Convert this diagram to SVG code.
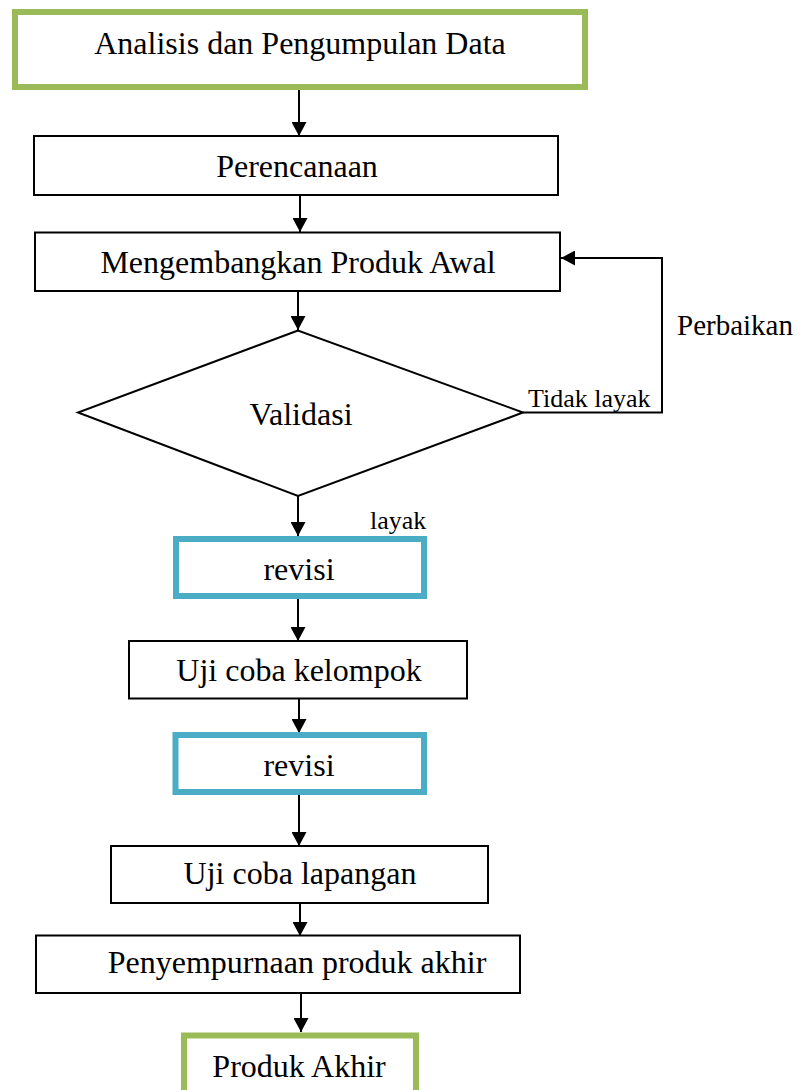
<svg xmlns="http://www.w3.org/2000/svg" width="809" height="1090" viewBox="0 0 809 1090">
<style>
  .t { font-family: "Liberation Serif", "Times New Roman", serif; font-size: 32px; fill: #000; text-anchor: middle; }
  .s { font-family: "Liberation Serif", "Times New Roman", serif; font-size: 26px; fill: #000; }
  .box { fill: #fff; stroke: #000; stroke-width: 2; }
  .green { fill: #fff; stroke: #9BBB59; stroke-width: 6; }
  .blue { fill: #fff; stroke: #4BACC6; stroke-width: 6; }
  .c { fill: none; stroke: #000; stroke-width: 2; }
</style>
<defs>
  <marker id="ah" markerUnits="userSpaceOnUse" viewBox="0 0 14 15" markerWidth="14" markerHeight="15" refX="14" refY="7.5" orient="auto">
    <path d="M0,0 L14,7.5 L0,15 z" fill="#000"/>
  </marker>
</defs>
<rect width="809" height="1090" fill="#fff"/>
<g id="connectors">
  <line class="c" x1="299" y1="90" x2="299" y2="136" marker-end="url(#ah)"/>
  <line class="c" x1="300" y1="195" x2="300" y2="232" marker-end="url(#ah)"/>
  <line class="c" x1="298" y1="291" x2="298" y2="330" marker-end="url(#ah)"/>
  <line class="c" x1="298" y1="496" x2="298" y2="536" marker-end="url(#ah)"/>
  <line class="c" x1="298" y1="599" x2="298" y2="641" marker-end="url(#ah)"/>
  <line class="c" x1="299" y1="698" x2="299" y2="733" marker-end="url(#ah)"/>
  <line class="c" x1="299" y1="795" x2="299" y2="846" marker-end="url(#ah)"/>
  <line class="c" x1="300" y1="903" x2="300" y2="936" marker-end="url(#ah)"/>
  <line class="c" x1="301" y1="993" x2="301" y2="1032" marker-end="url(#ah)"/>
  <polyline class="c" points="523,412.5 662,412.5 662,258 561,258" marker-end="url(#ah)"/>
  <text class="s" x="528" y="407">Tidak layak</text>
  <text class="s" x="370" y="529">layak</text>
  <text class="t" x="735" y="335" style="font-size:29px">Perbaikan</text>
</g>
<g id="n1">
  <rect class="green" x="15" y="12" width="570" height="75"/>
  <text class="t" x="300" y="54">Analisis dan Pengumpulan Data</text>
</g>
<g id="n2">
  <rect class="box" x="34" y="136" width="524" height="59"/>
  <text class="t" x="297" y="177">Perencanaan</text>
</g>
<g id="n3">
  <rect class="box" x="35" y="232.5" width="525" height="58.5"/>
  <text class="t" x="298" y="273">Mengembangkan Produk Awal</text>
</g>
<g id="n4">
  <polygon class="box" points="298,330.5 78,412.5 298,496 523,412.5"/>
  <text class="t" x="301" y="425">Validasi</text>
</g>
<g id="n5">
  <rect class="blue" x="176" y="539" width="248" height="57"/>
  <text class="t" x="299" y="580">revisi</text>
</g>
<g id="n6">
  <rect class="box" x="129" y="641" width="338" height="57.5"/>
  <text class="t" x="299" y="681">Uji coba kelompok</text>
</g>
<g id="n7">
  <rect class="blue" x="175.5" y="735" width="248.5" height="57"/>
  <text class="t" x="299" y="776">revisi</text>
</g>
<g id="n8">
  <rect class="box" x="111" y="846" width="377" height="57"/>
  <text class="t" x="300" y="884">Uji coba lapangan</text>
</g>
<g id="n9">
  <rect class="box" x="36" y="935.5" width="484" height="57.5"/>
  <text class="t" x="297" y="973">Penyempurnaan produk akhir</text>
</g>
<g id="n10">
  <rect class="green" x="184" y="1035.5" width="232" height="70"/>
  <text class="t" x="299" y="1077">Produk Akhir</text>
</g>
</svg>
